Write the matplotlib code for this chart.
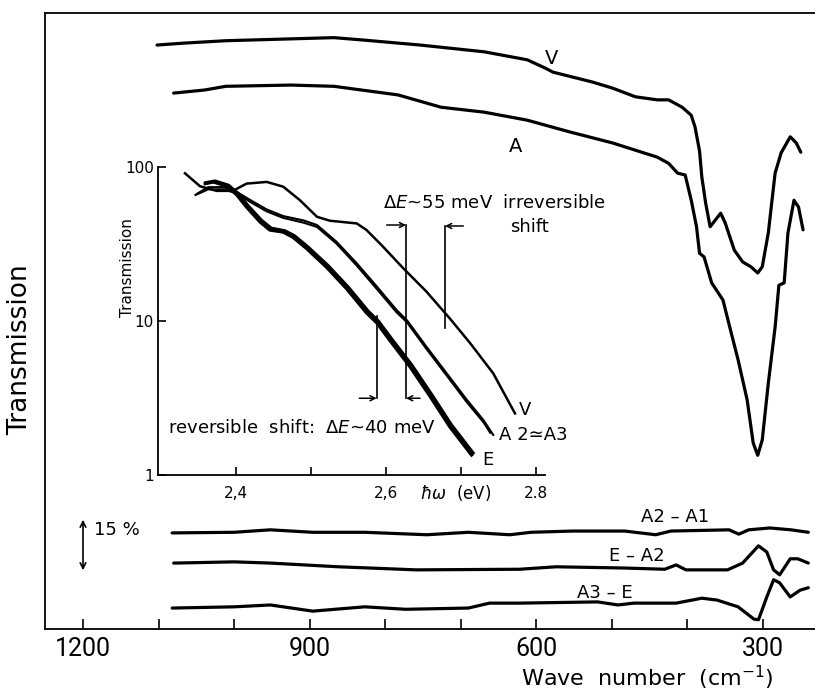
import matplotlib
matplotlib.use("Agg")
import matplotlib.pyplot as plt
from matplotlib import font_manager as fm

# ---------------- data ----------------
# main spectra: wave number (cm^-1) vs transmission (arb. units)
v_wn = [1102, 1068, 1011, 925, 868, 828, 754, 669, 612, 589, 578, 526, 499, 469, 440, 425,
        407, 395, 390, 384, 381, 376, 370, 356, 350, 338, 327, 316, 307, 301, 293, 284, 276,
        264, 256, 250]
v_tr = [94.8, 95.1, 95.5, 95.8, 96.0, 95.6, 94.8, 93.7, 92.4, 91.1, 90.4, 88.8, 87.8, 86.4,
        85.9, 85.9, 84.7, 83.4, 81.5, 77.6, 73.4, 69.2, 65.3, 67.5, 65.9, 61.5, 59.6, 58.8,
        57.8, 58.8, 64.3, 74.0, 77.3, 79.9, 78.9, 77.4]

a_wn = [1080, 1039, 1011, 925, 868, 783, 726, 669, 612, 556, 499, 440, 425, 413, 403, 395,
        388, 384, 378, 368, 353, 344, 333, 321, 313, 307, 301, 293, 284, 279, 272, 267, 259,
        253, 247]
a_tr = [87.0, 87.5, 88.1, 88.3, 88.1, 86.7, 84.7, 83.9, 82.6, 80.7, 78.9, 76.6, 75.6, 74.0,
        73.7, 69.6, 65.3, 61.0, 60.4, 56.2, 53.4, 49.0, 43.7, 37.2, 30.2, 28.2, 30.7, 39.9,
        49.0, 55.8, 56.2, 64.3, 69.6, 68.5, 64.8]

# difference spectra (arb. units, vertically offset)
d21_wn = [1082, 1000, 952, 896, 827, 745, 690, 635, 607, 552, 483, 442, 422, 345, 332, 319,
          291, 263, 240]
d21_tr = [15.6, 15.7, 16.1, 15.7, 15.7, 15.3, 15.7, 15.3, 15.7, 15.9, 15.9, 15.3, 15.9, 16.1,
          15.4, 16.1, 16.4, 16.1, 15.7]

de2_wn = [1080, 1000, 952, 862, 759, 622, 574, 484, 430, 415, 402, 347, 327, 306, 295, 286,
          278, 264, 254, 240]
de2_tr = [10.7, 10.9, 10.7, 10.1, 9.6, 9.7, 10.1, 9.9, 9.7, 10.4, 9.6, 9.6, 10.7, 13.5, 12.5,
          9.6, 8.8, 11.4, 11.4, 10.7]

d3e_wn = [1082, 1000, 952, 896, 827, 773, 690, 662, 622, 519, 492, 471, 415, 381, 361, 333,
          312, 306, 295, 286, 278, 264, 251, 240]
d3e_tr = [3.4, 3.6, 3.9, 2.9, 3.6, 3.2, 3.4, 4.2, 4.2, 4.4, 3.9, 4.2, 4.2, 5.0, 4.7, 3.6, 1.6,
          1.5, 5.2, 8.0, 7.5, 5.2, 6.3, 6.7]

# inset: photon energy (eV) vs transmission
iv_ev = [2.332, 2.352, 2.374, 2.396, 2.414, 2.441, 2.463, 2.485, 2.508, 2.525, 2.561, 2.574,
         2.596, 2.623, 2.654, 2.685, 2.712, 2.743, 2.772]
iv_tr = [91, 75, 70, 70, 78, 80, 74.5, 61, 47.5, 44.8, 43, 39, 30.4, 22, 15.5, 10.4, 7.2,
         4.57, 2.51]

ia2_ev = [2.348, 2.363, 2.383, 2.401, 2.419, 2.441, 2.463, 2.490, 2.508, 2.534, 2.561, 2.588,
          2.614, 2.628, 2.654, 2.681, 2.708, 2.730, 2.743]
ia2_tr = [67, 74, 74, 69, 61, 53, 48, 45, 42, 32.7, 23.7, 16.7, 11.8, 10.1, 6.8, 4.57, 3.07,
          2.27, 1.82]

ia3_ev = [2.346, 2.363, 2.383, 2.401, 2.419, 2.441, 2.463, 2.490, 2.508, 2.534, 2.561, 2.588,
          2.614, 2.628, 2.654, 2.681, 2.708, 2.730, 2.739]
ia3_tr = [65.8, 71.6, 71.6, 67.5, 59.3, 51.5, 46.7, 43.5, 40.8, 31.8, 22.9, 16.1, 11.4, 9.8,
          6.58, 4.42, 2.96, 2.20, 1.88]

ie1_ev = [2.359, 2.370, 2.388, 2.401, 2.414, 2.432, 2.445, 2.463, 2.476, 2.494, 2.521, 2.548,
          2.574, 2.588, 2.605, 2.632, 2.659, 2.685, 2.714]
ie1_tr = [78, 80, 75, 66, 55, 44, 39, 37.8, 35, 29.6, 22.3, 16.1, 11.3, 9.7, 7.5, 5.05, 3.23,
          2.06, 1.35]

ie2_ev = [2.360, 2.372, 2.390, 2.403, 2.416, 2.434, 2.447, 2.465, 2.478, 2.496, 2.523, 2.550,
          2.576, 2.590, 2.607, 2.634, 2.661, 2.687, 2.716]
ie2_tr = [79, 81, 76, 67, 56, 45, 40, 38.5, 35.7, 30.2, 22.8, 16.5, 11.6, 9.95, 7.7, 5.2, 3.32,
          2.12, 1.39]

main_ticks = [1200, 1100, 1000, 900, 800, 700, 600, 500, 400, 300]
main_ticklabels = ["1200", "", "", "900", "", "", "600", "", "", "300"]
inset_xticks = [2.4, 2.5, 2.6, 2.7, 2.8]
inset_xticklabels = ["2,4", "", "2,6", "", "2.8"]
inset_yticks = [1, 10, 100]
inset_yticklabels = ["1", "10", "100"]

# ---------------- fonts ----------------
names = {f.name for f in fm.fontManager.ttflist}
if "Liberation Sans Narrow" in names:
    NARROW, NSIZE = "Liberation Sans Narrow", 20
elif "Roboto" in names:
    NARROW, NSIZE = "Roboto", 18
else:
    NARROW, NSIZE = "DejaVu Sans", 16
REG = "DejaVu Sans"
plt.rcParams["font.family"] = [REG]
plt.rcParams["mathtext.fontset"] = "dejavusans"

W, H = 815, 692
fig = plt.figure(figsize=(W / 100, H / 100), dpi=100)


def fx(x):
    return x / W


def fy(y):
    return 1 - y / H


# ---------------- main axes ----------------
ax = fig.add_axes([fx(45), fy(629), (815 - 45) / W, (629 - 13) / H])
ax.set_xlim(1250.3, 231.2)
ax.set_ylim(0, 100)
lw_main = 2.3
for xw, yt in [(v_wn, v_tr), (a_wn, a_tr), (d21_wn, d21_tr), (de2_wn, de2_tr),
               (d3e_wn, d3e_tr)]:
    ax.plot(xw, yt, color="black", lw=lw_main, solid_capstyle="round", solid_joinstyle="round")

ax.set_xticks(main_ticks)
ax.set_xticklabels(main_ticklabels, fontfamily=NARROW, fontsize=NSIZE)
ax.tick_params(axis="x", direction="in", length=7, width=1.2, pad=6)
ax.set_yticks([])
ax.spines["right"].set_visible(False)
for s in ["left", "bottom", "top"]:
    ax.spines[s].set_linewidth(1.3)

fig.text(fx(647), fy(678), "Wave  number  (cm$^{\\mathregular{-1}}$)", ha="center", va="center",
         fontsize=16)
fig.text(fx(20), fy(350), "Transmission", rotation=90, ha="center", va="center", fontsize=19)
fig.text(fx(552), fy(58), "V", ha="center", va="center", fontsize=14)
fig.text(fx(516), fy(147), "A", ha="center", va="center", fontsize=14)

# labels for difference spectra
fig.text(fx(675), fy(517), "A2 – A1", ha="center", va="center", fontsize=13)
fig.text(fx(637), fy(556), "E – A2", ha="center", va="center", fontsize=13)
fig.text(fx(605), fy(593), "A3 – E", ha="center", va="center", fontsize=13)

# 15 % scale bar
fig.add_artist(matplotlib.patches.FancyArrowPatch((fx(83), fy(517)), (fx(83), fy(573)),
                                                   transform=fig.transFigure, arrowstyle="<->",
                                                   mutation_scale=10, lw=1.2, color="black"))
fig.text(fx(94), fy(530), "15 %", ha="left", va="center", fontsize=13)

# ---------------- inset ----------------
ins = fig.add_axes([fx(158), fy(475), (545 - 158) / W, (475 - 167) / H])
ins.set_facecolor("none")
ins.set_yscale("log")
ins.set_xlim(2.296, 2.812)
ins.set_ylim(1, 100)
ins.plot(iv_ev, iv_tr, color="black", lw=1.8)
ins.plot(ia2_ev, ia2_tr, color="black", lw=1.5)
ins.plot(ia3_ev, ia3_tr, color="black", lw=1.5)
ins.plot(ie1_ev, ie1_tr, color="black", lw=2.4)
ins.plot(ie2_ev, ie2_tr, color="black", lw=2.4)
ins.spines["right"].set_visible(False)
ins.spines["top"].set_visible(False)
for s in ["left", "bottom"]:
    ins.spines[s].set_linewidth(1.3)
ins.set_xticks(inset_xticks)
ins.set_xticklabels(inset_xticklabels, fontsize=11)
ins.set_yticks(inset_yticks)
ins.set_yticklabels(inset_yticklabels, fontsize=11)
ins.yaxis.set_minor_locator(matplotlib.ticker.NullLocator())
ins.tick_params(axis="both", direction="in", length=6, width=1.2, pad=8)
ins.tick_params(axis="y", pad=3)
fig.text(fx(456), fy(493), "$\\hbar\\omega$  (eV)", ha="center", va="center", fontsize=12)
fig.text(fx(128), fy(268), "Transmission", rotation=90, ha="center", va="center", fontsize=11)

# shift markers
arrow_kw = dict(arrowstyle="->", lw=1.1, color="black", shrinkA=0, shrinkB=0, mutation_scale=9)
ins.plot([2.6267, 2.6267], [42, 3.15], color="black", lw=1.2)
ins.plot([2.6787, 2.6787], [41.4, 8.96], color="black", lw=1.2)
ins.plot([2.5876, 2.5876], [10.7, 3.15], color="black", lw=1.2)
ins.annotate("", xy=(2.6267, 42), xytext=(2.6009, 42), arrowprops=arrow_kw)
ins.annotate("", xy=(2.6787, 41.4), xytext=(2.7031, 41.4), arrowprops=arrow_kw)
ins.annotate("", xy=(2.5876, 3.15), xytext=(2.5644, 3.15), arrowprops=arrow_kw)
ins.annotate("", xy=(2.6267, 3.15), xytext=(2.6453, 3.15), arrowprops=arrow_kw)

fig.text(fx(383), fy(203), "$\\Delta E$~55 meV  irreversible", ha="left", va="center", fontsize=13)
fig.text(fx(510), fy(227), "shift", ha="left", va="center", fontsize=13)
fig.text(fx(168), fy(428), "reversible  shift:  $\\Delta E$~40 meV", ha="left", va="center",
         fontsize=13)
fig.text(fx(525), fy(410), "V", ha="center", va="center", fontsize=13)
fig.text(fx(499), fy(435), "A 2≃A3", ha="left", va="center", fontsize=13)
fig.text(fx(488), fy(460), "E", ha="center", va="center", fontsize=13)

fig.savefig("out.png", dpi=100)
